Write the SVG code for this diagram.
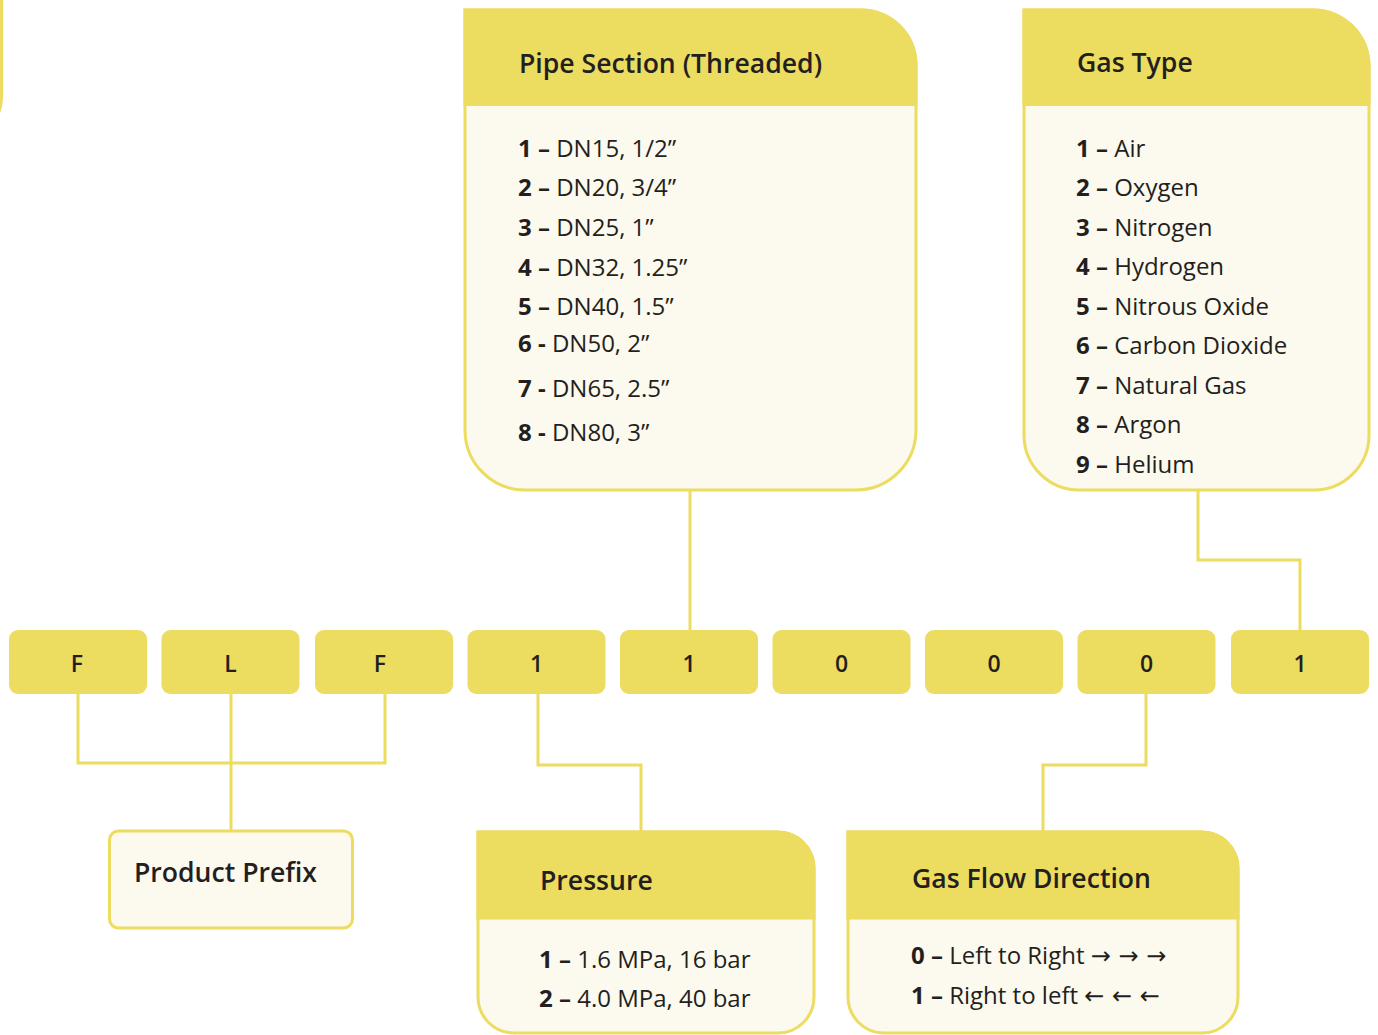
<svg xmlns="http://www.w3.org/2000/svg" width="1378" height="1035" viewBox="0 0 1378 1035">
<style>
.hdr{fill:#ECDC60}
.body{fill:#FCF9EE;stroke:#ECDC60;stroke-width:3}
.code{fill:#ECDC60}
.ct{font-family:"Open Sans","Noto Sans",sans-serif;font-size:23px;font-weight:600;fill:#231F20;text-anchor:middle}
.ht{font-family:"Open Sans","Noto Sans",sans-serif;font-size:26.6px;font-weight:600;fill:#231F20}
.it{font-family:"Open Sans","Noto Sans",sans-serif;font-size:24px;font-weight:400;fill:#231F20}
.b{font-weight:700}
.ar{font-family:"DejaVu Sans",sans-serif;font-size:24px}
.conn{fill:none;stroke:#ECDC60;stroke-width:3}
</style>
<rect width="1378" height="1035" fill="#FFFFFF"/>
<path d="M1.5,0 V95 Q1.5,113 -8,125" fill="none" stroke="#ECDC60" stroke-width="3"/>
<g id="connectors">
<path class="conn" d="M78,694 V763 H385 V694"/>
<path class="conn" d="M231,694 V831"/>
<path class="conn" d="M538,694 V765 H641 V832"/>
<path class="conn" d="M690,490 V630"/>
<path class="conn" d="M1146,694 V765 H1043 V832"/>
<path class="conn" d="M1198,490 V560 H1300 V630"/>
</g>
<g id="code-F1"><rect class="code" x="9" y="630" width="138" height="64" rx="9"/><text class="ct" x="77" y="672">F</text></g>
<g id="code-L"><rect class="code" x="161.5" y="630" width="138" height="64" rx="9"/><text class="ct" x="230.5" y="672">L</text></g>
<g id="code-F2"><rect class="code" x="315" y="630" width="138" height="64" rx="9"/><text class="ct" x="380" y="672">F</text></g>
<g id="code-1a"><rect class="code" x="467.5" y="630" width="138" height="64" rx="9"/><text class="ct" x="536.5" y="672">1</text></g>
<g id="code-1b"><rect class="code" x="620" y="630" width="138" height="64" rx="9"/><text class="ct" x="689" y="672">1</text></g>
<g id="code-0a"><rect class="code" x="772.5" y="630" width="138" height="64" rx="9"/><text class="ct" x="841.5" y="672">0</text></g>
<g id="code-0b"><rect class="code" x="925" y="630" width="138" height="64" rx="9"/><text class="ct" x="994" y="672">0</text></g>
<g id="code-0c"><rect class="code" x="1077.5" y="630" width="138" height="64" rx="9"/><text class="ct" x="1146.5" y="672">0</text></g>
<g id="code-1c"><rect class="code" x="1231" y="630" width="138" height="64" rx="9"/><text class="ct" x="1300" y="672">1</text></g>
<g id="pipe-section">
<path class="body" d="M465,10 H861 A55,55 0 0 1 916,65 V430 A60,60 0 0 1 856,490 H525 A60,60 0 0 1 465,430 Z"/>
<path class="hdr" d="M463.5,8.5 H861 A56.5,56.5 0 0 1 917.5,65 V106 H463.5 Z"/>
<text class="ht" x="519" y="72.5">Pipe Section (Threaded)</text>
<text class="it" x="518" y="156.5"><tspan class="b">1 –</tspan> DN15, 1/2”</text>
<text class="it" x="518" y="196"><tspan class="b">2 –</tspan> DN20, 3/4”</text>
<text class="it" x="518" y="236"><tspan class="b">3 –</tspan> DN25, 1”</text>
<text class="it" x="518" y="276"><tspan class="b">4 –</tspan> DN32, 1.25”</text>
<text class="it" x="518" y="315"><tspan class="b">5 –</tspan> DN40, 1.5”</text>
<text class="it" x="518" y="352"><tspan class="b">6 -</tspan> DN50, 2”</text>
<text class="it" x="518" y="397"><tspan class="b">7 -</tspan> DN65, 2.5”</text>
<text class="it" x="518" y="441"><tspan class="b">8 -</tspan> DN80, 3”</text>
</g>
<g id="gas-type">
<path class="body" d="M1024,10 H1313 A56,56 0 0 1 1369,66 V435 A55,55 0 0 1 1314,490 H1079 A55,55 0 0 1 1024,435 Z"/>
<path class="hdr" d="M1022.5,8.5 H1313 A57.5,57.5 0 0 1 1370.5,66 V106 H1022.5 Z"/>
<text class="ht" x="1077" y="72">Gas Type</text>
<text class="it" x="1076" y="156.5"><tspan class="b">1 –</tspan> Air</text>
<text class="it" x="1076" y="196"><tspan class="b">2 –</tspan> Oxygen</text>
<text class="it" x="1076" y="235.5"><tspan class="b">3 –</tspan> Nitrogen</text>
<text class="it" x="1076" y="275"><tspan class="b">4 –</tspan> Hydrogen</text>
<text class="it" x="1076" y="314.5"><tspan class="b">5 –</tspan> Nitrous Oxide</text>
<text class="it" x="1076" y="354"><tspan class="b">6 –</tspan> Carbon Dioxide</text>
<text class="it" x="1076" y="393.5"><tspan class="b">7 –</tspan> Natural Gas</text>
<text class="it" x="1076" y="433"><tspan class="b">8 –</tspan> Argon</text>
<text class="it" x="1076" y="472.5"><tspan class="b">9 –</tspan> Helium</text>
</g>
<g id="product-prefix">
<rect class="body" x="109.5" y="831" width="243" height="97" rx="9"/>
<text class="ht" x="134" y="882">Product Prefix</text>
</g>
<g id="pressure">
<path class="body" d="M478,832 H778 A36,36 0 0 1 814,868 V997 A36,36 0 0 1 778,1033 H514 A36,36 0 0 1 478,997 Z"/>
<path class="hdr" d="M476.5,830.5 H778 A37.5,37.5 0 0 1 815.5,868 V919.5 H476.5 Z"/>
<text class="ht" x="540" y="890">Pressure</text>
<text class="it" x="539" y="968"><tspan class="b">1 –</tspan> 1.6 MPa, 16 bar</text>
<text class="it" x="539" y="1007"><tspan class="b">2 –</tspan> 4.0 MPa, 40 bar</text>
</g>
<g id="gas-flow-direction">
<path class="body" d="M848,832 H1202 A36,36 0 0 1 1238,868 V997 A36,36 0 0 1 1202,1033 H884 A36,36 0 0 1 848,997 Z"/>
<path class="hdr" d="M846.5,830.5 H1202 A37.5,37.5 0 0 1 1239.5,868 V919.5 H846.5 Z"/>
<text class="ht" x="912" y="888">Gas Flow Direction</text>
<text class="it" x="911" y="964"><tspan class="b">0 –</tspan> Left to Right <tspan class="ar">→ → →</tspan></text>
<text class="it" x="911" y="1004"><tspan class="b">1 –</tspan> Right to left <tspan class="ar">← ← ←</tspan></text>
</g>
</svg>
